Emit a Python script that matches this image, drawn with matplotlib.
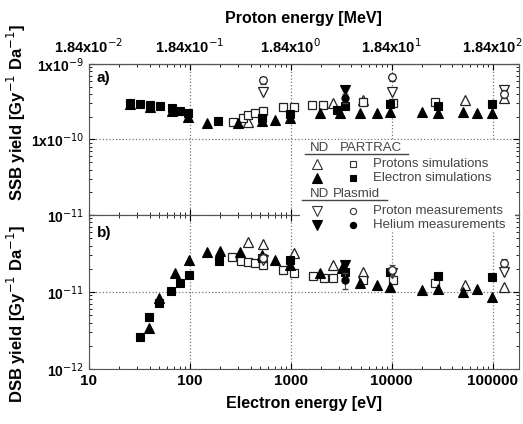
import matplotlib.pyplot as plt
from matplotlib.lines import Line2D
import numpy as np

plt.rcParams['font.family'] = ['Liberation Sans', 'DejaVu Sans']

# ---- data: panel a) SSB yield ----
a_nd_p_x = [375, 2600, 5160, 52800, 131000]
a_nd_p_y = [1.7e-10, 3.0e-10, 3.3e-10, 3.3e-10, 3.55e-10]
a_pt_p_x = [267, 335, 375, 440, 528, 833, 1070, 1610, 2070, 5160, 10200, 26700]
a_pt_p_y = [1.7e-10, 1.93e-10, 2.11e-10, 2.25e-10, 2.39e-10, 2.69e-10, 2.69e-10,
            2.86e-10, 2.86e-10, 3.14e-10, 3.04e-10, 3.14e-10]
a_nd_e_x = [25.5, 40, 66, 95.6, 147, 299, 516, 695, 977, 1940, 3056, 4820, 7100,
            9550, 19800, 28500, 50500, 69500, 97700]
a_nd_e_y = [2.95e-10, 2.69e-10, 2.39e-10, 1.99e-10, 1.66e-10, 1.66e-10, 1.76e-10,
            1.81e-10, 1.93e-10, 2.25e-10, 2.25e-10, 2.25e-10, 2.25e-10, 2.31e-10,
            2.31e-10, 2.25e-10, 2.31e-10, 2.25e-10, 2.25e-10]
a_pt_e_x = [25.5, 32, 40, 50.5, 66, 79.6, 95.6, 189, 516, 977, 2850, 3430, 9550,
            28500, 97700]
a_pt_e_y = [3.04e-10, 2.95e-10, 2.86e-10, 2.78e-10, 2.61e-10, 2.39e-10, 2.25e-10,
            1.76e-10, 1.93e-10, 2.18e-10, 2.46e-10, 2.78e-10, 2.95e-10, 2.78e-10,
            2.95e-10]
a_nd_pm_x = [528, 10000, 131000]
a_nd_pm_y = [4.25e-10, 4.25e-10, 4.5e-10]
a_pl_pm_x = [528, 10000, 131000]
a_pl_pm_y = [6.1e-10, 6.7e-10, 4.0e-10]
a_pl_pm_err = [0.6e-10, 0.7e-10, 0.5e-10]
a_nd_he_x = [3430]
a_nd_he_y = [4.5e-10]
a_pl_he_x = [3430]
a_pl_he_y = [3.55e-10]
a_pl_he_err = [0.5e-10]

# ---- data: panel b) DSB yield ----
b_nd_p_x = [375, 528, 1070, 2600, 5160, 52800, 131000]
b_nd_p_y = [4.46e-11, 4.2e-11, 3.2e-11, 2.25e-11, 1.82e-11, 1.23e-11, 1.16e-11]
b_pt_p_x = [260, 320, 375, 440, 528, 833, 1070, 1650, 2150, 2600, 5160, 10200, 26700]
b_pt_p_y = [2.85e-11, 2.53e-11, 2.46e-11, 2.38e-11, 2.25e-11, 1.93e-11, 1.77e-11,
            1.62e-11, 1.53e-11, 1.53e-11, 1.43e-11, 1.43e-11, 1.31e-11]
b_nd_e_x = [39.3, 49.3, 71, 97.7, 147, 199, 313, 516, 695, 977, 1940, 3200, 4820,
            7100, 9550, 19800, 28500, 50500, 69500, 97700]
b_nd_e_y = [3.4e-12, 8.35e-12, 1.77e-11, 2.6e-11, 3.31e-11, 3.4e-11, 3.31e-11,
            3.03e-11, 2.6e-11, 2.25e-11, 1.77e-11, 2.05e-11, 1.31e-11, 1.23e-11,
            1.16e-11, 1.06e-11, 1.09e-11, 1.0e-11, 1.09e-11, 8.6e-12]
b_pt_e_x = [32, 39.3, 49.3, 64.9, 79.6, 97.7, 194, 516, 977, 3430, 9550, 28500, 97700]
b_pt_e_y = [2.6e-12, 4.73e-12, 7.2e-12, 1.03e-11, 1.31e-11, 1.66e-11, 2.53e-11,
            2.77e-11, 2.6e-11, 1.82e-11, 1.82e-11, 1.62e-11, 1.57e-11]
b_nd_pm_x = [528, 10000, 131000]
b_nd_pm_y = [2.6e-11, 1.77e-11, 1.82e-11]
b_pl_pm_x = [528, 10000, 131000]
b_pl_pm_y = [2.77e-11, 1.93e-11, 2.38e-11]
b_pl_pm_err = [0.3e-11, 0.3e-11, 0.3e-11]
b_nd_he_x = [3430]
b_nd_he_y = [2.25e-11]
b_pl_he_x = [3430]
b_pl_he_y = [1.43e-11]
b_pl_he_err = [0.35e-11]

# ---- tick labels ----
x_ticks = [10, 100, 1000, 10000, 100000]
x_labels = ['10', '100', '1000', '10000', '100000']
top_labels = ['1.84x10$^{-2}$', '1.84x10$^{-1}$', '1.84x10$^{0}$',
              '1.84x10$^{1}$', '1.84x10$^{2}$']
a_yticks = [1e-11, 1e-10, 1e-9]
a_ylabels = ['10$^{-11}$', '1x10$^{-10}$', '1x10$^{-9}$']
b_yticks = [1e-12, 1e-11, 1e-10]
b_ylabels = ['10$^{-12}$', '10$^{-11}$', '']

fig = plt.figure(figsize=(5.23, 4.24), dpi=100)
ax_a = fig.add_axes([0.170, 0.493, 0.822, 0.356])
ax_b = fig.add_axes([0.170, 0.130, 0.822, 0.363])

ms_sq = 5.5
ms_tr = 7
open_kw = dict(mfc='white', mec='#222222', mew=0.9, ls='none')
fill_kw = dict(mfc='black', mec='black', mew=0.8, ls='none')


def draw(ax, d):
    ax.plot(d[0], d[1], marker='^', ms=ms_tr, **open_kw)
    ax.plot(d[2], d[3], marker='s', ms=ms_sq, **open_kw)
    ax.plot(d[4], d[5], marker='^', ms=ms_tr, **fill_kw)
    ax.plot(d[6], d[7], marker='s', ms=ms_sq, **fill_kw)
    ax.plot(d[8], d[9], marker='v', ms=ms_tr, **open_kw)
    ax.errorbar(d[10], d[11], yerr=d[12], fmt='o', ms=ms_sq, mfc='white',
                mec='#222222', mew=0.9, ecolor='#444444', elinewidth=0.8, capsize=2)
    ax.plot(d[13], d[14], marker='v', ms=ms_tr, **fill_kw)
    ax.errorbar(d[15], d[16], yerr=d[17], fmt='o', ms=ms_sq - 0.5, mfc='black',
                mec='black', ecolor='#444444', elinewidth=0.8, capsize=2)


draw(ax_a, [a_nd_p_x, a_nd_p_y, a_pt_p_x, a_pt_p_y, a_nd_e_x, a_nd_e_y,
            a_pt_e_x, a_pt_e_y, a_nd_pm_x, a_nd_pm_y, a_pl_pm_x, a_pl_pm_y,
            a_pl_pm_err, a_nd_he_x, a_nd_he_y, a_pl_he_x, a_pl_he_y, a_pl_he_err])
draw(ax_b, [b_nd_p_x, b_nd_p_y, b_pt_p_x, b_pt_p_y, b_nd_e_x, b_nd_e_y,
            b_pt_e_x, b_pt_e_y, b_nd_pm_x, b_nd_pm_y, b_pl_pm_x, b_pl_pm_y,
            b_pl_pm_err, b_nd_he_x, b_nd_he_y, b_pl_he_x, b_pl_he_y, b_pl_he_err])

for ax, lim, yt, yl in [(ax_a, (1e-11, 1e-9), a_yticks, a_ylabels),
                        (ax_b, (1e-12, 1e-10), b_yticks, b_ylabels)]:
    ax.set_xscale('log')
    ax.set_yscale('log')
    ax.set_xlim(10, 182000)
    ax.set_ylim(*lim)
    ax.set_yticks(yt, yl)
    ax.set_xticks(x_ticks, x_labels)
    ax.tick_params(which='both', direction='in', right=True, top=True)
    ax.tick_params(which='major', length=4, labelsize=11)
    ax.tick_params(axis='y', labelsize=10)
    ax.tick_params(which='minor', length=2)
    ax.grid(True, which='major', ls=':', color='#777777', lw=0.9)
    for lab in ax.get_xticklabels() + ax.get_yticklabels():
        lab.set_fontweight('bold')
    for s in ax.spines.values():
        s.set_color('#555555')

ax_a.tick_params(labelbottom=False)
ax_a.text(0.018, 0.88, 'a)', transform=ax_a.transAxes, fontsize=11, fontweight='bold')
ax_b.text(0.018, 0.86, 'b)', transform=ax_b.transAxes, fontsize=11, fontweight='bold')

top = ax_a.secondary_xaxis('top')
top.set_xticks(x_ticks, top_labels)
top.tick_params(which='both', length=0, labelsize=10.5, pad=6)
for lab in top.get_xticklabels():
    lab.set_fontweight('bold')
top.set_xlabel('Proton energy [MeV]', fontsize=11.5, fontweight='bold', labelpad=10)

ax_b.set_xlabel('Electron energy [eV]', fontsize=11.5, fontweight='bold', labelpad=6)
fig.text(0.032, 0.735, 'SSB yield [Gy$^{-1}$ Da$^{-1}$]', rotation=90, ha='center',
         va='center', fontsize=12, fontweight='bold')
fig.text(0.032, 0.26, 'DSB yield [Gy$^{-1}$ Da$^{-1}$]', rotation=90, ha='center',
         va='center', fontsize=12, fontweight='bold')

# ---- custom legend in figure coordinates ----
W, H = 523.0, 424.0
fig.patches.append(plt.Rectangle((300 / W, 1 - 232 / H), 215 / W, 92 / H,
                                 transform=fig.transFigure, fc='white', ec='none',
                                 zorder=3))
gray = '#444444'
fig.text(310 / W, 1 - 148 / H, 'ND', fontsize=9.5, color=gray, va='center', zorder=4)
fig.text(340 / W, 1 - 148 / H, 'PARTRAC', fontsize=9.5, color=gray, va='center', zorder=4)
fig.add_artist(Line2D([305 / W, 408 / W], [1 - 154 / H] * 2, color=gray, lw=1, zorder=4))
fig.text(310 / W, 1 - 194 / H, 'ND', fontsize=9.5, color=gray, va='center', zorder=4)
fig.text(333 / W, 1 - 194 / H, 'Plasmid', fontsize=9.5, color=gray, va='center', zorder=4)
fig.add_artist(Line2D([302 / W, 387 / W], [1 - 200 / H] * 2, color=gray, lw=1, zorder=4))

rows = [(164, '^', 's', False, 'Protons simulations'),
        (178, '^', 's', True, 'Electron simulations'),
        (211, 'v', 'o', False, 'Proton measurements'),
        (225, 'v', 'o', True, 'Helium measurements')]
for yy, m1, m2, filled, txt in rows:
    fc = 'black' if filled else 'white'
    ec = 'black' if filled else '#333333'
    fig.add_artist(Line2D([317 / W], [1 - yy / H], marker=m1, ms=6.5, mfc=fc, mec=ec,
                          mew=0.8, ls='none', zorder=4))
    fig.add_artist(Line2D([353 / W], [1 - yy / H], marker=m2, ms=4.5, mfc=fc, mec=ec,
                          mew=0.8, ls='none', zorder=4))
    fig.text(373 / W, 1 - yy / H, txt, fontsize=9.5, color=gray, va='center', zorder=4)

fig.savefig('out.png', dpi=100)
